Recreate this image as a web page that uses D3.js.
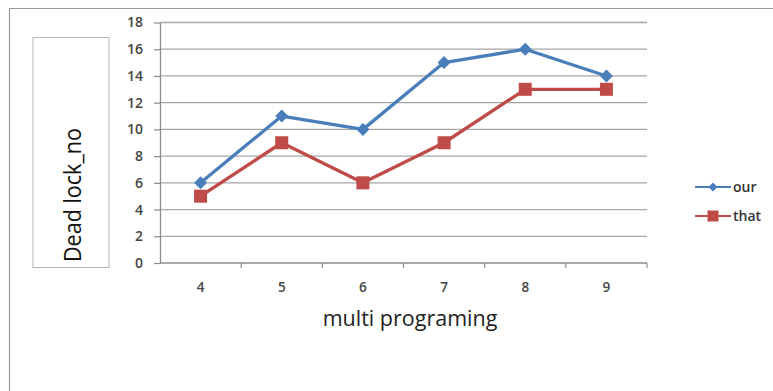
<!DOCTYPE html>
<html>
<head>
<meta charset="utf-8">
<script src="https://cdn.jsdelivr.net/npm/d3@7"></script>
<style>
  html, body { margin: 0; padding: 0; background: #fff; }
  svg { display: block; }
</style>
</head>
<body>
<svg id="chart" width="773" height="391"></svg>
<script>
// Deadlock counts per multiprogramming level
const categories = ["4", "5", "6", "7", "8", "9"];
const ourValues = [6, 11, 10, 15, 16, 14];
const thatValues = [5, 9, 6, 9, 13, 13];
const yTicks = [0, 2, 4, 6, 8, 10, 12, 14, 16, 18];
const seriesNames = ["our", "that"];

const series = [
  { name: seriesNames[0], values: ourValues, color: "#4A7EBB", marker: "diamond" },
  { name: seriesNames[1], values: thatValues, color: "#BE4B48", marker: "square" }
];

const svg = d3.select("#chart");
const font = "'Open Sans', 'DejaVu Sans', sans-serif";

// outer frame
svg.append("path")
  .attr("d", "M9.5,391 L9.5,8.5 L773,8.5")
  .attr("fill", "none")
  .attr("stroke", "#9a9a9a")
  .attr("stroke-width", 1.2);

const plot = { left: 160, right: 647, top: 22.5, bottom: 263 };

const x = d3.scaleBand().domain(categories).range([plot.left, plot.right]);
const y = d3.scaleLinear().domain([0, 18]).range([plot.bottom, plot.top]);

// horizontal gridlines
svg.append("g")
  .selectAll("line")
  .data(yTicks.filter(t => t > 0))
  .join("line")
  .attr("x1", plot.left).attr("x2", plot.right)
  .attr("y1", d => y(d)).attr("y2", d => y(d))
  .attr("stroke", "#a6a6a6")
  .attr("stroke-width", 1.3);

// y axis
const yAxis = svg.append("g")
  .attr("transform", `translate(${plot.left},0)`)
  .call(d3.axisLeft(y).tickValues(yTicks).tickSize(6).tickPadding(11).tickSizeOuter(0));
yAxis.select(".domain").attr("stroke", "#8c8c8c").attr("stroke-width", 1.3);
yAxis.selectAll(".tick line").attr("stroke", "#8c8c8c").attr("stroke-width", 1.2);
yAxis.selectAll(".tick text")
  .attr("font-family", font).attr("font-size", 14).attr("font-weight", 600)
  .attr("fill", "#444");

// x axis with ticks at category boundaries
const xAxisG = svg.append("g").attr("transform", `translate(0,${plot.bottom})`);
xAxisG.append("line")
  .attr("x1", plot.left).attr("x2", plot.right)
  .attr("stroke", "#8c8c8c").attr("stroke-width", 1.3);
xAxisG.selectAll("line.tk")
  .data(categories.slice(1).map(c => x(c)).concat([plot.right]))
  .join("line")
  .attr("class", "tk")
  .attr("x1", d => d).attr("x2", d => d)
  .attr("y1", 0).attr("y2", 5)
  .attr("stroke", "#8c8c8c").attr("stroke-width", 1.2);
xAxisG.selectAll("text")
  .data(categories)
  .join("text")
  .attr("x", d => x(d) + x.bandwidth() / 2)
  .attr("y", 28.5)
  .attr("text-anchor", "middle")
  .attr("font-family", font).attr("font-size", 13.5).attr("font-weight", 600)
  .attr("fill", "#444")
  .text(d => d);

// axis titles
svg.append("text")
  .attr("x", 410).attr("y", 326)
  .attr("text-anchor", "middle")
  .attr("font-family", font).attr("font-size", 21.5)
  .attr("fill", "#222")
  .text("multi programing");

svg.append("rect")
  .attr("x", 33).attr("y", 37.5).attr("width", 76).attr("height", 230)
  .attr("fill", "#fff").attr("stroke", "#b5b5b5").attr("stroke-width", 1);
svg.append("text")
  .attr("transform", "translate(81,262) rotate(-90)")
  .attr("text-anchor", "start")
  .attr("font-family", font).attr("font-size", 23)
  .attr("fill", "#111")
  .attr("textLength", 134)
  .attr("lengthAdjust", "spacingAndGlyphs")
  .text("Dead lock_no");

// series lines and markers
const line = d3.line()
  .x((d, i) => x(categories[i]) + x.bandwidth() / 2)
  .y(d => y(d));

function drawMarker(g, type, color) {
  if (type === "diamond") {
    g.append("path").attr("d", "M0,-6.5 L6.5,0 L0,6.5 L-6.5,0 Z").attr("fill", color);
  } else {
    g.append("rect").attr("x", -6.5).attr("y", -6.5).attr("width", 13).attr("height", 13).attr("fill", color);
  }
}

series.forEach(s => {
  svg.append("path")
    .datum(s.values)
    .attr("d", line)
    .attr("fill", "none")
    .attr("stroke", s.color)
    .attr("stroke-width", 3.3)
    .attr("stroke-linejoin", "round");
  s.values.forEach((v, i) => {
    const g = svg.append("g")
      .attr("transform", `translate(${x(categories[i]) + x.bandwidth() / 2},${y(v)})`);
    drawMarker(g, s.marker, s.color);
  });
});

// legend
const legend = svg.append("g");
series.forEach((s, i) => {
  const ly = 187 + i * 29;
  legend.append("line")
    .attr("x1", 695).attr("x2", 731).attr("y1", ly).attr("y2", ly)
    .attr("stroke", s.color).attr("stroke-width", 2.2);
  const g = legend.append("g").attr("transform", `translate(713,${ly})`);
  if (s.marker === "diamond") {
    g.append("path").attr("d", "M0,-4.5 L4.5,0 L0,4.5 L-4.5,0 Z").attr("fill", s.color);
  } else {
    g.append("rect").attr("x", -5.5).attr("y", -5.5).attr("width", 11).attr("height", 11).attr("fill", s.color);
  }
  legend.append("text")
    .attr("x", 733).attr("y", ly + 5)
    .attr("font-family", font).attr("font-size", 14).attr("font-weight", 600)
    .attr("fill", "#333")
    .text(s.name);
});
</script>
</body>
</html>
